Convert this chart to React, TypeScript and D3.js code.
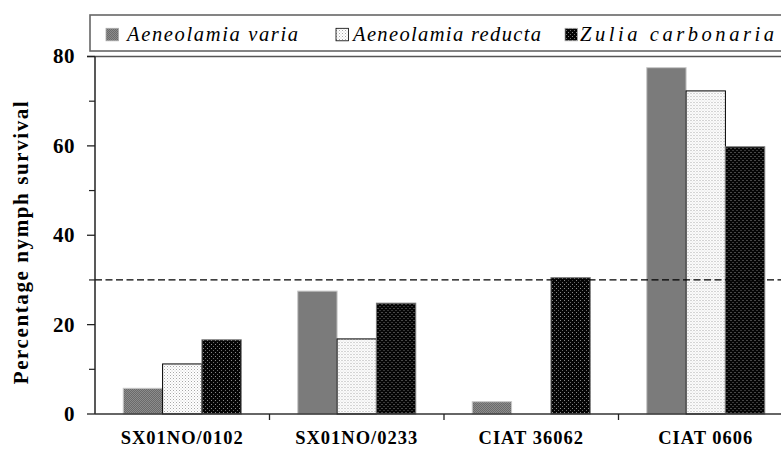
import React from "react";
import * as d3 from "d3";

const categories = ["SX01NO/0102", "SX01NO/0233", "CIAT 36062", "CIAT 0606"];
const seriesNames = ["Aeneolamia varia", "Aeneolamia reducta", "Zulia carbonaria"];
const variaValues = [5.75, 27.5, 2.75, 77.5];
const reductaValues = [11.2, 16.8, 0, 72.3];
const carbonariaValues = [16.6, 24.8, 30.5, 59.8];
const yTicks = [0, 20, 40, 60, 80];
const yMinorTicks = [10, 30, 50, 70];
const thresholdValue = 30;
const yTitle = "Percentage nymph survival";

const seriesValues = [variaValues, reductaValues, carbonariaValues];
const patternIds = ["pVaria", "pReducta", "pCarb"];
const barStrokes = ["#c8c8c8", "#000", "#777"];
const legendSwatchX = [106, 336, 565];
const legendTextX = [127, 353, 580];
const legendTextW = [171, 188, 194];

export default function App() {
  const W = 781, H = 449;
  const x0 = d3.scaleBand<string>().domain(categories).range([95, 793]).padding(0);
  const bw = x0.bandwidth();
  const groupW = 118;
  const x1 = d3.scaleBand<string>().domain(seriesNames).range([(bw - groupW) / 2, (bw + groupW) / 2]).padding(0);
  const y = d3.scaleLinear().domain([0, 80]).range([414, 56.5]);
  const serif = "'Liberation Serif', 'Times New Roman', Times, serif";

  return (
    <svg width={W} height={H} style={{ position: "absolute", left: 0, top: 0, background: "#fff" }}>
      <defs>
        <pattern id="pVaria" width={2} height={2} patternUnits="userSpaceOnUse">
          <rect width={2} height={2} fill="#8c8c8c" />
          <rect x={0} y={0} width={1} height={1} fill="#6a6a6a" />
          <rect x={1} y={1} width={1} height={1} fill="#6a6a6a" />
        </pattern>
        <pattern id="pReducta" width={3} height={3} patternUnits="userSpaceOnUse">
          <rect width={3} height={3} fill="#ffffff" />
          <rect x={0} y={0} width={1} height={1} fill="#a8a8a8" />
          <rect x={1.5} y={1.5} width={1} height={1} fill="#c8c8c8" />
        </pattern>
        <pattern id="pCarb" width={4} height={4} patternUnits="userSpaceOnUse">
          <rect width={4} height={4} fill="#050505" />
          <rect x={0} y={0} width={1} height={1} fill="#8a8a8a" />
          <rect x={2} y={2} width={1} height={1} fill="#6a6a6a" />
        </pattern>
      </defs>

      {/* plot top border */}
      <line x1={87} x2={W} y1={56.5} y2={56.5} stroke="#555" strokeWidth={1.3} />

      {/* bars */}
      {categories.map((c, ci) => (
        <g key={c} transform={`translate(${x0(c)},0)`}>
          {seriesNames.map((s, si) => {
            const v = seriesValues[si][ci];
            if (v <= 0) return null;
            return (
              <rect
                key={s}
                x={x1(s)}
                y={y(v)}
                width={x1.bandwidth()}
                height={y(0) - y(v)}
                fill={`url(#${patternIds[si]})`}
                stroke={barStrokes[si]}
                strokeWidth={1}
              />
            );
          })}
        </g>
      ))}

      {/* threshold dashed line */}
      <line x1={95} x2={W} y1={y(thresholdValue)} y2={y(thresholdValue)} stroke="#000" strokeWidth={1.2} strokeDasharray="7,3.5" />

      {/* axes */}
      <line x1={95} x2={95} y1={56.5} y2={414} stroke="#222" strokeWidth={1.5} />
      <line x1={95} x2={W} y1={414} y2={414} stroke="#333" strokeWidth={1.5} />
      {yTicks.map((t) => (
        <g key={t}>
          <line x1={87} x2={95} y1={y(t)} y2={y(t)} stroke="#222" strokeWidth={1.3} />
          <text x={75} y={y(t)} dy="0.33em" textAnchor="end" fontFamily={serif} fontWeight="bold" fontSize={21} letterSpacing={0.5} fill="#000">
            {t}
          </text>
        </g>
      ))}
      {yMinorTicks.map((t) => (
        <line key={t} x1={89} x2={95} y1={y(t)} y2={y(t)} stroke="#222" strokeWidth={1.2} />
      ))}
      {categories.slice(1).map((c) => (
        <line key={c} x1={x0(c)} x2={x0(c)} y1={414} y2={420} stroke="#222" strokeWidth={1.3} />
      ))}
      {categories.map((c) => (
        <text key={c} x={(x0(c) as number) + bw / 2} y={444} textAnchor="middle" fontFamily={serif} fontWeight="bold" fontSize={18.5} letterSpacing={1} fill="#000">
          {c}
        </text>
      ))}

      {/* y title */}
      <text transform={`translate(28,242) rotate(-90)`} textAnchor="middle" fontFamily={serif} fontWeight="bold" fontSize={21} letterSpacing={1.6} fill="#000">
        {yTitle}
      </text>

      {/* legend */}
      <rect x={90} y={15} width={W} height={36} fill="#fff" stroke="#666" strokeWidth={1.6} />
      {seriesNames.map((s, i) => (
        <g key={s}>
          <rect x={legendSwatchX[i]} y={28.3} width={12.5} height={12.5} fill={`url(#${patternIds[i]})`} stroke={i === 1 ? "#000" : "#aaa"} strokeWidth={0.8} />
          <text x={legendTextX[i]} y={40.7} textLength={legendTextW[i]} lengthAdjust="spacing" fontFamily={serif} fontStyle="italic" fontSize={20.5} fill="#000">
            {s}
          </text>
        </g>
      ))}
    </svg>
  );
}
